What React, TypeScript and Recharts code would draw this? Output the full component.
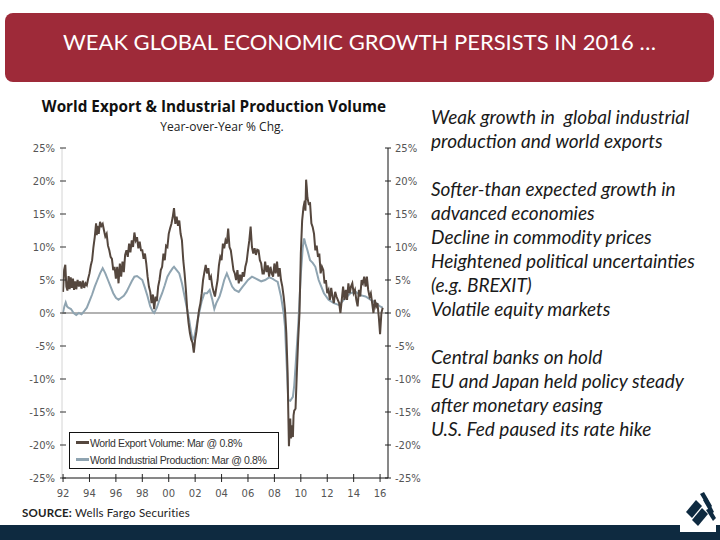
import React from 'react'
import {
  LineChart, Line, XAxis, YAxis, ReferenceLine, Legend,
} from 'recharts'

// World export volume, yoy % chg  [year, value]
const exportPts: [number, number][] = [
  [1992.0, 3.2], [1992.08, 6.5], [1992.17, 7.3], [1992.25, 4.0], [1992.33, 3.4], [1992.42, 5.6], [1992.5, 3.6], [1992.58, 5.4], [1992.67, 3.8], [1992.75, 5.2], [1992.83, 3.5], [1992.92, 4.8],
  [1993.0, 3.6], [1993.1, 5.0], [1993.2, 4.0], [1993.3, 4.8], [1993.4, 3.7], [1993.5, 4.9], [1993.6, 3.8], [1993.7, 4.5], [1993.8, 4.2], [1993.9, 5.2],
  [1994.0, 6.0], [1994.1, 7.2], [1994.2, 8.0], [1994.3, 10.0], [1994.4, 11.5], [1994.5, 13.6], [1994.55, 11.8], [1994.6, 13.2], [1994.7, 12.0], [1994.8, 13.8], [1994.9, 13.2],
  [1995.0, 13.5], [1995.1, 12.5], [1995.2, 11.6], [1995.3, 12.0], [1995.4, 10.2], [1995.5, 9.5], [1995.6, 8.5], [1995.7, 8.2], [1995.8, 6.5], [1995.9, 7.0],
  [1996.0, 5.2], [1996.1, 7.0], [1996.2, 4.5], [1996.3, 7.5], [1996.4, 5.5], [1996.5, 7.8], [1996.6, 6.2], [1996.7, 8.8], [1996.8, 9.5], [1996.9, 8.5],
  [1997.0, 10.5], [1997.1, 9.2], [1997.2, 11.0], [1997.3, 10.0], [1997.4, 12.2], [1997.5, 11.0], [1997.6, 11.5], [1997.7, 9.8], [1997.8, 10.8], [1997.9, 9.5],
  [1998.0, 9.5], [1998.1, 8.2], [1998.2, 9.0], [1998.3, 7.5], [1998.4, 5.5], [1998.5, 4.0], [1998.6, 3.2], [1998.7, 1.5], [1998.8, 2.8], [1998.9, 0.6],
  [1999.0, 2.5], [1999.1, 1.8], [1999.2, 4.0], [1999.3, 5.0], [1999.4, 6.5], [1999.5, 7.0], [1999.6, 9.0], [1999.7, 8.0], [1999.8, 10.2], [1999.9, 10.0],
  [2000.0, 12.0], [2000.1, 12.8], [2000.2, 13.5], [2000.3, 14.5], [2000.4, 15.9], [2000.5, 13.5], [2000.6, 14.6], [2000.7, 13.2], [2000.8, 14.0], [2000.9, 12.0],
  [2001.0, 11.0], [2001.1, 8.0], [2001.2, 6.0], [2001.3, 3.5], [2001.4, 0.5], [2001.5, -1.5], [2001.6, -3.0], [2001.7, -4.0], [2001.8, -4.5], [2001.9, -6.0],
  [2002.0, -4.0], [2002.1, -2.8], [2002.2, -1.0], [2002.3, 0.5], [2002.4, 1.5], [2002.5, 3.0], [2002.6, 5.0], [2002.7, 6.2], [2002.8, 7.3], [2002.9, 6.0],
  [2003.0, 6.8], [2003.1, 5.0], [2003.2, 5.5], [2003.3, 4.0], [2003.4, 3.2], [2003.5, 2.5], [2003.6, 3.8], [2003.7, 5.0], [2003.8, 7.2], [2003.9, 8.5],
  [2004.0, 8.0], [2004.1, 10.5], [2004.2, 9.8], [2004.3, 11.0], [2004.4, 10.5], [2004.5, 12.8], [2004.6, 10.0], [2004.7, 9.5], [2004.8, 8.0], [2004.9, 6.5],
  [2005.0, 6.0], [2005.1, 5.0], [2005.2, 6.5], [2005.3, 4.5], [2005.4, 5.8], [2005.5, 4.8], [2005.6, 6.2], [2005.7, 5.5], [2005.8, 7.0], [2005.9, 7.8],
  [2006.0, 9.5], [2006.1, 11.0], [2006.2, 13.1], [2006.3, 10.0], [2006.4, 9.0], [2006.5, 9.8], [2006.6, 8.8], [2006.7, 9.6], [2006.8, 9.5], [2006.9, 8.0],
  [2007.0, 7.5], [2007.1, 6.0], [2007.2, 6.0], [2007.3, 7.8], [2007.4, 6.2], [2007.5, 7.2], [2007.6, 5.5], [2007.7, 7.0], [2007.8, 6.0], [2007.9, 5.5],
  [2008.0, 7.5], [2008.1, 6.0], [2008.2, 7.8], [2008.3, 5.5], [2008.4, 6.8], [2008.5, 5.0], [2008.6, 4.0], [2008.7, 2.5], [2008.8, 0.5], [2008.9, -3.0],
  [2009.0, -9.0], [2009.05, -15.0], [2009.1, -20.2], [2009.15, -18.0], [2009.2, -16.0], [2009.25, -19.0], [2009.3, -17.0], [2009.4, -18.8], [2009.45, -15.5], [2009.5, -14.8], [2009.6, -14.5], [2009.7, -9.0], [2009.8, -4.0], [2009.9, 0.0],
  [2010.0, 9.0], [2010.1, 14.0], [2010.2, 16.0], [2010.3, 17.0], [2010.35, 15.5], [2010.4, 20.2], [2010.45, 19.0], [2010.5, 17.5], [2010.6, 16.5], [2010.7, 16.6], [2010.8, 13.6], [2010.9, 13.0],
  [2011.0, 12.0], [2011.1, 9.5], [2011.2, 10.2], [2011.3, 8.5], [2011.4, 9.0], [2011.5, 6.0], [2011.6, 7.0], [2011.7, 6.5], [2011.8, 4.5], [2011.9, 5.0],
  [2012.0, 3.0], [2012.1, 3.5], [2012.2, 2.0], [2012.3, 3.8], [2012.4, 2.5], [2012.5, 1.5], [2012.6, 3.2], [2012.7, 2.5], [2012.8, 2.0], [2012.9, 1.5],
  [2013.0, 0.0], [2013.1, 2.0], [2013.2, 4.0], [2013.3, 2.0], [2013.4, 3.5], [2013.5, 2.0], [2013.6, 4.5], [2013.7, 3.0], [2013.8, 4.0], [2013.9, 4.5],
  [2014.0, 3.0], [2014.1, 3.5], [2014.2, 2.0], [2014.3, 1.0], [2014.4, 3.5], [2014.5, 2.5], [2014.6, 5.0], [2014.7, 4.5], [2014.8, 5.5], [2014.9, 4.0],
  [2015.0, 5.5], [2015.1, 3.5], [2015.2, 2.5], [2015.3, 3.0], [2015.4, 1.5], [2015.5, 0.0], [2015.6, 2.0], [2015.7, 1.0], [2015.8, 1.5], [2015.9, -0.5],
  [2016.0, -3.2], [2016.1, 0.0], [2016.2, 0.8],
]

// World industrial production, yoy % chg  [year, value]
const ipPts: [number, number][] = [
  [1992.0, 0.1], [1992.1, 1.0], [1992.2, 1.6], [1992.3, 1.0], [1992.4, 0.8], [1992.6, 0.6], [1992.8, 0.0], [1993.0, -0.3], [1993.2, 0.0], [1993.4, -0.2], [1993.6, 0.3], [1993.8, 0.8],
  [1994.0, 1.8], [1994.2, 2.8], [1994.4, 4.0], [1994.6, 5.0], [1994.8, 6.0], [1995.0, 6.8], [1995.2, 6.0], [1995.4, 5.0], [1995.6, 4.0], [1995.8, 3.0],
  [1996.0, 2.3], [1996.2, 2.0], [1996.4, 2.3], [1996.6, 2.6], [1996.8, 3.2], [1997.0, 4.0], [1997.2, 4.8], [1997.4, 5.5], [1997.6, 5.6], [1997.8, 5.3],
  [1998.0, 5.0], [1998.2, 3.8], [1998.4, 2.5], [1998.6, 1.0], [1998.8, 0.2], [1998.9, 0.0], [1999.1, 0.8], [1999.3, 2.0], [1999.5, 3.0], [1999.7, 4.2], [1999.9, 5.5],
  [2000.1, 6.2], [2000.3, 6.8], [2000.4, 7.0], [2000.6, 6.5], [2000.8, 6.0], [2001.0, 4.5], [2001.2, 2.5], [2001.4, 0.5], [2001.55, -1.1], [2001.7, -3.0], [2001.8, -4.1], [2001.95, -3.5],
  [2002.1, -2.0], [2002.3, 0.0], [2002.5, 1.8], [2002.7, 3.0], [2002.9, 3.0], [2003.1, 3.5], [2003.3, 2.0], [2003.45, 0.6], [2003.6, 1.5], [2003.85, 2.5],
  [2004.0, 3.5], [2004.2, 5.0], [2004.4, 6.0], [2004.6, 5.0], [2004.8, 4.0], [2005.0, 3.5], [2005.3, 3.2], [2005.6, 4.0], [2005.8, 4.5], [2006.0, 5.0],
  [2006.3, 5.5], [2006.6, 5.2], [2006.8, 5.0], [2007.0, 4.8], [2007.3, 5.0], [2007.6, 5.4], [2007.85, 5.2], [2008.0, 5.0], [2008.25, 4.7],
  [2008.5, 2.5], [2008.7, 0.0], [2008.8, -2.0], [2008.9, -6.5], [2009.05, -13.2], [2009.2, -13.3], [2009.4, -12.7], [2009.5, -11.0], [2009.6, -8.1], [2009.8, -2.0],
  [2010.0, 5.9], [2010.15, 10.0], [2010.25, 11.3], [2010.35, 10.5], [2010.5, 9.5], [2010.7, 8.0], [2010.9, 7.6],
  [2011.1, 7.0], [2011.35, 5.0], [2011.55, 4.0], [2011.75, 3.0], [2012.1, 2.0], [2012.5, 1.5], [2012.9, 1.2], [2013.25, 2.0], [2013.5, 2.5], [2013.75, 3.0],
  [2014.15, 3.2], [2014.5, 2.7], [2014.9, 2.5], [2015.3, 2.0], [2015.7, 1.5], [2016.0, 1.0], [2016.2, 0.8],
]

const yTicks = [-25, -20, -15, -10, -5, 0, 5, 10, 15, 20, 25]
const xTicks = [1992, 1994, 1996, 1998, 2000, 2002, 2004, 2006, 2008, 2010, 2012, 2014, 2016]

const bullets = [
  'Weak growth in  global industrial',
  'production and world exports',
  '',
  'Softer-than expected growth in',
  'advanced economies',
  'Decline in commodity prices',
  'Heightened political uncertainties',
  '(e.g. BREXIT)',
  'Volatile equity markets',
  '',
  'Central banks on hold',
  'EU and Japan held policy steady',
  'after monetary easing',
  'U.S. Fed paused its rate hike',
]

const EXPORT_COLOR = '#55473e'
const IP_COLOR = '#8fa4b1'
const TICK_FONT = '"DejaVu Sans", Verdana, sans-serif'

const exportData = exportPts.map(([t, v]) => ({ t, v }))
const ipData = ipPts.map(([t, v]) => ({ t, v }))

// ticks that cross the axis line, like the original
function AxisTick(props: any) {
  const { x, y, payload, side } = props
  const style = { fontFamily: TICK_FONT, fontSize: 10, fill: '#555' }
  if (side === 'bottom') {
    const yr = String(payload.value % 100).padStart(2, '0')
    return (
      <g>
        <line x1={x} x2={x} y1={y - 4} y2={y + 4} stroke="#222" />
        <text x={x} y={y + 19} textAnchor="middle" style={style}>{yr}</text>
      </g>
    )
  }
  const lbl = `${payload.value}%`
  if (side === 'left') {
    return (
      <g>
        <line x1={x + 5} x2={x + 11} y1={y} y2={y} stroke="#333" />
        <text x={x} y={y + 3.5} textAnchor="end" style={style}>{lbl}</text>
      </g>
    )
  }
  return (
    <g>
      <line x1={x - 10} x2={x - 4} y1={y} y2={y} stroke="#222" />
      <text x={x} y={y + 3.5} textAnchor="start" style={style}>{lbl}</text>
    </g>
  )
}

function LegendBox() {
  const items = [
    { label: 'World Export Volume: Mar @ 0.8%', color: EXPORT_COLOR },
    { label: 'World Industrial Production: Mar @ 0.8%', color: IP_COLOR },
  ]
  return (
    <div style={{
      width: 210, height: 37, border: '1px solid #111', background: '#fff',
      fontFamily: '"Liberation Sans", Arial, sans-serif', fontSize: 10.5, letterSpacing: -0.35, color: '#333',
      padding: '1px 0 0 6px', boxSizing: 'border-box', whiteSpace: 'nowrap',
    }}>
      {items.map(it => (
        <div key={it.label} style={{ display: 'flex', alignItems: 'center', height: 17 }}>
          <span style={{ display: 'inline-block', flexShrink: 0, width: 13, height: 3, background: it.color, marginRight: 1 }} />
          <span>{it.label}</span>
        </div>
      ))}
    </div>
  )
}

export default function App() {
  return (
    <div style={{ position: 'absolute', left: 0, top: 0, width: 720, height: 540, background: '#fff', overflow: 'hidden' }}>
      {/* title banner */}
      <div style={{
        position: 'absolute', left: 5, top: 13, width: 709, height: 69, background: '#9e2a39',
        borderRadius: 8, color: '#fff', fontFamily: 'Lato, sans-serif', fontSize: 22,
        textAlign: 'center', lineHeight: '58px',
      }}>
        WEAK GLOBAL ECONOMIC GROWTH PERSISTS IN 2016 …
      </div>

      <div style={{
        position: 'absolute', left: 14, top: 96, width: 400, textAlign: 'center',
        fontFamily: '"Open Sans", sans-serif', fontWeight: 700, fontSize: 15.3, color: '#111',
      }}>
        World Export &amp; Industrial Production Volume
      </div>
      <div style={{
        position: 'absolute', left: 22, top: 118, width: 400, textAlign: 'center',
        fontFamily: '"Open Sans", sans-serif', fontSize: 12, color: '#222',
      }}>
        Year-over-Year % Chg.
      </div>

      <div style={{ position: 'absolute', left: 0, top: 140 }}>
        <LineChart width={440} height={365} margin={{ top: 8, right: 12, bottom: 5, left: 22 }}>
          <XAxis
            dataKey="t" type="number" domain={[1991.92, 2016.6]} ticks={xTicks}
            allowDataOverflow axisLine={{ stroke: '#111' }} tickLine={false}
            tickSize={0} tickMargin={0} height={22} interval={0}
            tick={<AxisTick side="bottom" />}
          />
          <YAxis
            yAxisId="l" domain={[-25, 25]} ticks={yTicks} width={40}
            axisLine={{ stroke: '#d4d4d4' }} tickLine={false} tickSize={0} tickMargin={7}
            interval={0} tick={<AxisTick side="left" />}
          />
          <YAxis
            yAxisId="r" orientation="right" domain={[-25, 25]} ticks={yTicks} width={40}
            axisLine={{ stroke: '#111' }} tickLine={false} tickSize={0} tickMargin={7}
            interval={0} tick={<AxisTick side="right" />}
          />
          <ReferenceLine yAxisId="l" y={0} stroke="#666" strokeWidth={1.2} />
          <Line
            yAxisId="r" data={ipData} dataKey="v" name="ip" type="linear"
            stroke={IP_COLOR} strokeWidth={2} dot={false} isAnimationActive={false}
          />
          <Line
            yAxisId="l" data={exportData} dataKey="v" name="export" type="linear"
            stroke={EXPORT_COLOR} strokeWidth={2} dot={false} isAnimationActive={false}
          />
          <Legend
            layout="vertical" align="center" verticalAlign="middle"
            wrapperStyle={{ left: 69, top: 292, width: 'auto' }}
            content={<LegendBox />}
          />
        </LineChart>
      </div>

      <div style={{
        position: 'absolute', left: 22, top: 506, fontFamily: 'Lato, sans-serif',
        fontSize: 11.5, color: '#222', letterSpacing: 0.2,
      }}>
        <span style={{ fontWeight: 700 }}>SOURCE:</span> Wells Fargo Securities
      </div>

      {/* commentary */}
      <div style={{
        position: 'absolute', left: 431, top: 105, fontFamily: 'Lato, sans-serif',
        fontStyle: 'italic', fontSize: 19, color: '#1a1a1a', lineHeight: '24px',
      }}>
        {bullets.map((b, i) => (
          <div key={i} style={{ height: 24, whiteSpace: 'pre' }}>{b}</div>
        ))}
      </div>

      {/* footer bar + logo */}
      <div style={{ position: 'absolute', left: 0, top: 525, width: 720, height: 15, background: '#0e2a40' }} />
      <svg style={{ position: 'absolute', left: 676, top: 486 }} width={44} height={46}>
        <rect x={4} y={6} width={36} height={40} fill="#fff" />
        <polygon points="10,26 20,14 26,20 16,32" fill="#0e2a40" />
        <polygon points="16,34 26,22 32,28 22,40" fill="#0e2a40" />
        <polygon points="24,8 28,6 36,20 33,23" fill="#0e2a40" />
        <polygon points="30,24 34,22 40,32 37,35" fill="#0e2a40" />
        <polygon points="27,14 31,12 38,26 35,28" fill="#0e2a40" />
      </svg>
    </div>
  )
}
